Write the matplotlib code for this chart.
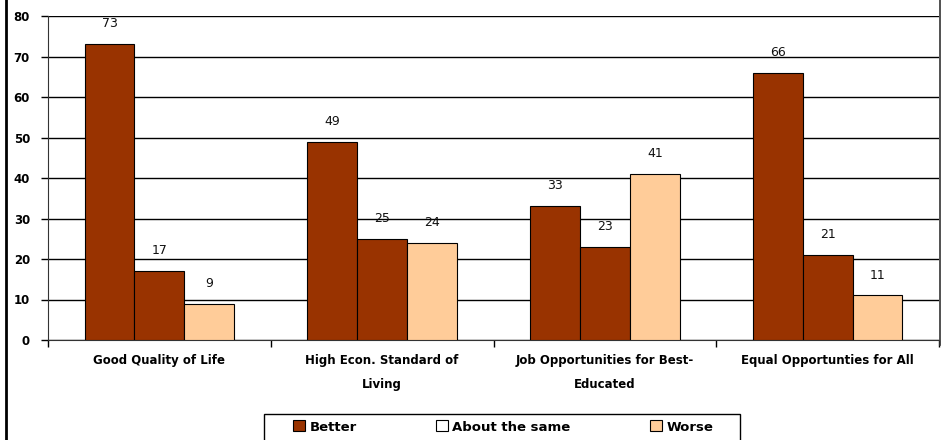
import matplotlib
matplotlib.use("Agg")
import matplotlib.pyplot as plt
import numpy as np
from matplotlib.patches import Patch, Rectangle
from matplotlib.lines import Line2D

categories = ["Good Quality of Life", "High Econ. Standard of\nLiving",
              "Job Opportunities for Best-\nEducated", "Equal Opportunties for All"]
series_names = ["Better", "About the same", "Worse"]
better = [73, 49, 33, 66]
same = [17, 25, 23, 21]
worse = [9, 24, 41, 11]
yticks = [0, 10, 20, 30, 40, 50, 60, 70, 80]

bar_colors = ["#993300", "#993300", "#FFCC99"]
legend_colors = ["#993300", "#FFFFFF", "#FFCC99"]

fig = plt.figure(figsize=(9.43, 4.40), dpi=100)
ax = fig.add_axes([48/943, 1-340/440, (939-48)/943, (340-16)/440])

x = np.arange(len(categories))
w = 0.224
for i, vals in enumerate([better, same, worse]):
    pos = x + (i-1)*w
    ax.bar(pos, vals, width=w, color=bar_colors[i], edgecolor="black",
           linewidth=0.8, zorder=3)
    for p, v in zip(pos, vals):
        ax.annotate(str(v), (p, v), xytext=(0, 10), textcoords="offset points",
                    ha="center", va="bottom", fontsize=9, color="#111111")

ax.set_xlim(-0.5, len(categories)-0.5)
ax.set_ylim(0, 80)
ax.set_yticks(yticks)
ax.set_yticklabels([str(t) for t in yticks], fontsize=8.5, fontweight="bold")
ax.yaxis.grid(True, color="black", linewidth=1.0, zorder=0)
ax.set_axisbelow(True)

ax.set_xticks(x)
ax.set_xticklabels(categories, fontsize=8.5, fontweight="bold", linespacing=2.1)
ax.set_xticks(np.arange(len(categories)+1)-0.5, minor=True)
ax.tick_params(axis="x", which="major", length=0, pad=10)
ax.tick_params(axis="x", which="minor", length=5, width=1, direction="out")
ax.tick_params(axis="y", length=5, width=1, direction="out", pad=8)

for s in ["top", "right"]:
    ax.spines[s].set_visible(False)
ax.spines["left"].set_color("#333333")
ax.spines["bottom"].set_color("#333333")

# legend frame
fig.add_artist(Rectangle((264/943, -0.01), 476/943, (440-414)/440 + 0.01,
                         transform=fig.transFigure, facecolor="white",
                         edgecolor="black", linewidth=1.0))
handles = [Patch(facecolor=legend_colors[i], edgecolor="black", linewidth=0.8,
                 label=series_names[i]) for i in range(3)]
leg = fig.legend(handles=handles, loc="center", ncol=3,
                 bbox_to_anchor=(503/943, 1-427/440),
                 frameon=False, prop={"weight": "bold", "size": 9.5},
                 handlelength=0.9, handleheight=0.9, handletextpad=0.35,
                 columnspacing=6.0, borderaxespad=0, borderpad=0)

fig.add_artist(Line2D([5.5/943, 5.5/943], [0, 1], transform=fig.transFigure,
                      color="black", linewidth=2))
fig.add_artist(Line2D([939.5/943, 939.5/943], [1-345/440, 1], transform=fig.transFigure,
                      color="#333333", linewidth=1.2))

fig.savefig("out.png", dpi=100)
